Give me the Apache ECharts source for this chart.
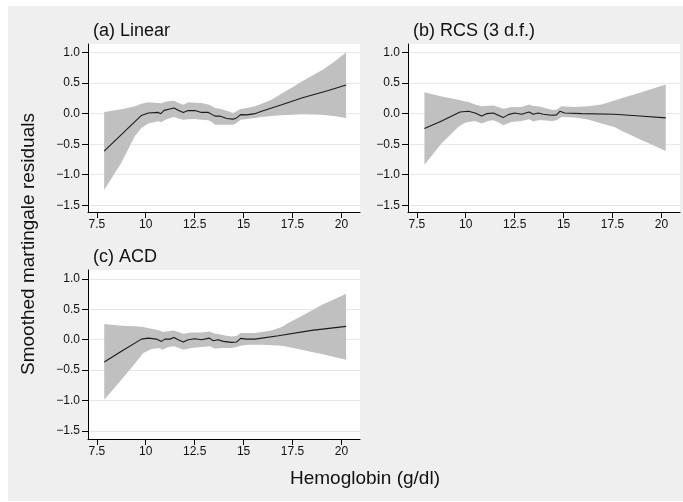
<!DOCTYPE html>
<html>
<head>
<meta charset="utf-8">
<script src="https://cdn.jsdelivr.net/npm/echarts@6/dist/echarts.min.js"></script>
<style>
  html, body { margin: 0; padding: 0; background: #ffffff; }
  #bg { position: absolute; left: 8px; top: 6px; width: 675px; height: 495px; background: #efefef; }
  #chart { position: absolute; left: 0; top: 0; width: 683px; height: 502px; }
</style>
</head>
<body>
<div id="bg"></div>
<div id="chart"></div>
<script>
// ---- tick labels ----
const xTicks = [7.5, 10, 12.5, 15, 17.5, 20];
const yTicks = [-1.5, -1.0, -0.5, 0.0, 0.5, 1.0];
const panelTitles = ['(a) Linear', '(b) RCS (3 d.f.)', '(c) ACD'];
const xTitle = 'Hemoglobin (g/dl)';
const yTitle = 'Smoothed martingale residuals';

// ---- (a) Linear ----
const linLineX = [7.875, 9.78, 10.13, 10.64, 10.77, 10.94, 11.23, 11.44, 11.66, 11.92, 12.17, 12.51, 12.85, 13.2, 13.4, 13.54, 13.79, 14.13, 14.47, 14.64, 14.85, 15.16, 15.58, 15.92, 16.95, 17.97, 19.33, 20.24];
const linLineY = [-0.614, -0.03, 0.01, 0.02, 0.0, 0.054, 0.076, 0.092, 0.054, 0.02, 0.05, 0.05, 0.02, 0.02, -0.016, -0.04, -0.04, -0.08, -0.09, -0.07, -0.016, -0.02, 0.0, 0.04, 0.147, 0.255, 0.38, 0.47];
const linBandX = [7.875, 8.76, 9.44, 9.78, 10.13, 10.64, 10.8, 11.0, 11.23, 11.44, 11.66, 11.92, 12.17, 12.5, 12.85, 13.2, 13.4, 13.54, 13.8, 14.1, 14.47, 14.64, 14.85, 15.16, 15.58, 15.92, 16.43, 16.95, 17.5, 17.97, 18.5, 19.0, 19.6, 20.24];
const linBandLo = [-1.25, -0.80, -0.37, -0.234, -0.16, -0.125, -0.14, -0.10, -0.075, -0.054, -0.08, -0.098, -0.09, -0.087, -0.098, -0.11, -0.14, -0.18, -0.18, -0.18, -0.18, -0.152, -0.098, -0.087, -0.07, -0.054, -0.04, -0.027, -0.018, -0.01, -0.012, -0.02, -0.04, -0.07];
const linBandHi = [0.027, 0.07, 0.12, 0.163, 0.185, 0.174, 0.17, 0.195, 0.205, 0.21, 0.18, 0.147, 0.185, 0.18, 0.174, 0.15, 0.12, 0.092, 0.08, 0.05, 0.01, 0.04, 0.075, 0.092, 0.12, 0.16, 0.228, 0.33, 0.43, 0.527, 0.62, 0.71, 0.84, 1.0];

// ---- (b) RCS (3 d.f.) ----
const rcsLineX = [7.89, 8.77, 9.71, 10.14, 10.48, 10.81, 11.07, 11.41, 11.66, 11.92, 12.17, 12.5, 12.85, 13.24, 13.45, 13.7, 13.96, 14.39, 14.64, 14.81, 15.06, 15.92, 17.6, 18.9, 20.22];
const rcsLineY = [-0.243, -0.12, 0.027, 0.038, 0.01, -0.038, 0.0, 0.01, -0.027, -0.065, -0.016, 0.01, -0.01, 0.027, -0.01, 0.01, -0.01, -0.027, -0.02, 0.038, 0.01, 0.0, -0.01, -0.038, -0.07];
const rcsBandX = [7.89, 8.77, 9.63, 9.97, 10.14, 10.48, 10.81, 11.15, 11.41, 11.66, 11.92, 12.33, 12.85, 13.24, 13.45, 13.7, 13.96, 14.39, 14.64, 14.9, 15.58, 16.25, 16.94, 17.6, 17.96, 18.98, 20.22];
const rcsBandLo = [-0.838, -0.486, -0.216, -0.151, -0.135, -0.12, -0.162, -0.12, -0.108, -0.14, -0.19, -0.135, -0.12, -0.092, -0.13, -0.11, -0.11, -0.12, -0.108, -0.054, -0.065, -0.097, -0.162, -0.22, -0.28, -0.432, -0.61];
const rcsBandHi = [0.351, 0.28, 0.227, 0.20, 0.19, 0.15, 0.119, 0.13, 0.135, 0.11, 0.08, 0.108, 0.108, 0.15, 0.125, 0.12, 0.10, 0.065, 0.065, 0.12, 0.108, 0.12, 0.15, 0.216, 0.25, 0.35, 0.476];

// ---- (c) ACD ----
const acdLineX = [7.88, 8.76, 9.78, 10.13, 10.55, 10.8, 10.98, 11.23, 11.44, 11.66, 11.92, 12.17, 12.51, 12.85, 13.25, 13.45, 13.7, 13.96, 14.39, 14.64, 14.85, 15.16, 15.58, 16.78, 18.48, 20.24];
const acdLineY = [-0.366, -0.19, 0.01, 0.027, 0.01, -0.027, 0.01, 0.01, 0.038, 0.0, -0.038, 0.0, 0.016, 0.0, 0.027, -0.016, 0.0, -0.027, -0.044, -0.038, 0.022, 0.01, 0.01, 0.065, 0.153, 0.219];
const acdBandX = [7.88, 8.76, 9.44, 9.87, 10.3, 10.72, 10.85, 11.15, 11.44, 11.66, 11.92, 12.34, 12.85, 13.28, 13.54, 13.7, 14.05, 14.39, 14.64, 14.85, 15.25, 15.58, 15.92, 16.43, 16.95, 17.28, 17.97, 18.48, 18.99, 20.24];
const acdBandLo = [-0.984, -0.656, -0.393, -0.219, -0.153, -0.137, -0.164, -0.12, -0.109, -0.13, -0.164, -0.137, -0.12, -0.109, -0.148, -0.14, -0.137, -0.137, -0.12, -0.098, -0.082, -0.082, -0.082, -0.09, -0.098, -0.12, -0.164, -0.2, -0.235, -0.328];
const acdBandHi = [0.257, 0.23, 0.22, 0.21, 0.18, 0.15, 0.126, 0.14, 0.153, 0.125, 0.098, 0.12, 0.12, 0.137, 0.10, 0.093, 0.07, 0.055, 0.06, 0.11, 0.11, 0.11, 0.125, 0.153, 0.21, 0.273, 0.39, 0.48, 0.57, 0.754];

const panels = [
  { lx: linLineX, ly: linLineY, bx: linBandX, lo: linBandLo, hi: linBandHi },
  { lx: rcsLineX, ly: rcsLineY, bx: rcsBandX, lo: rcsBandLo, hi: rcsBandHi },
  { lx: acdLineX, ly: acdLineY, bx: acdBandX, lo: acdBandLo, hi: acdBandHi }
];

const FONT = '"Liberation Sans", Arial, Helvetica, sans-serif';
const gridPos = [
  { left: 88, top: 44, width: 272, height: 168 },
  { left: 408, top: 44, width: 272, height: 168 },
  { left: 88, top: 270, width: 272, height: 169 }
];
const yRange = [
  { min: -1.61, max: 1.14 },
  { min: -1.61, max: 1.14 },
  { min: -1.63, max: 1.145 }
];

const fmtY = v => (v < 0 ? '\u2212' : '') + Math.abs(v).toFixed(1);

const grids = [], xAxes = [], yAxes = [], series = [];
panels.forEach((p, i) => {
  grids.push(Object.assign({ show: true, backgroundColor: '#ffffff', borderWidth: 0 }, gridPos[i]));
  xAxes.push({
    type: 'value', gridIndex: i, min: 7.05, max: 20.95,
    axisLine: { show: true, onZero: false, lineStyle: { color: '#000', width: 1 } },
    axisTick: { show: true, length: 6, customValues: xTicks, lineStyle: { color: '#000' } },
    axisLabel: { customValues: xTicks, formatter: v => String(v), fontSize: 12, color: '#111', margin: 7, fontFamily: FONT },
    splitLine: { show: false }
  });
  yAxes.push({
    type: 'value', gridIndex: i, min: yRange[i].min, max: yRange[i].max,
    axisLine: { show: true, onZero: false, lineStyle: { color: '#000', width: 1 } },
    axisTick: { show: true, length: 6, customValues: yTicks, lineStyle: { color: '#000' } },
    axisLabel: { customValues: yTicks, formatter: fmtY, fontSize: 12, color: '#111', margin: 8, fontFamily: FONT },
    splitLine: { show: true, lineStyle: { color: '#e8e8e8', width: 1 } }
  });
  // confidence band: polygon through upper edge then lower edge (reversed)
  const bandData = p.bx.map((x, k) => [x, p.lo[k], p.hi[k]]);
  series.push({
    type: 'custom', xAxisIndex: i, yAxisIndex: i, silent: true, z: 2,
    data: bandData,
    encode: { x: 0, y: [1, 2] },
    renderItem: function (params, api) {
      if (params.dataIndex !== 0) return null;
      const up = bandData.map(d => api.coord([d[0], d[2]]));
      const dn = bandData.map(d => api.coord([d[0], d[1]])).reverse();
      return {
        type: 'polygon',
        shape: { points: up.concat(dn) },
        style: { fill: '#c0c0c0', stroke: null }
      };
    }
  });
  series.push({
    type: 'line', xAxisIndex: i, yAxisIndex: i, symbol: 'none', silent: true,
    lineStyle: { color: '#1a1a1a', width: 1.1 },
    data: p.lx.map((x, k) => [x, p.ly[k]]), z: 3
  });
});

const titlePos = [[93, 31], [413, 31], [93, 257]];
const graphics = panelTitles.map((t, i) => ({
  type: 'text', x: titlePos[i][0], y: titlePos[i][1],
  style: { text: t, font: '18px ' + FONT, fill: '#111', textAlign: 'left', textVerticalAlign: 'middle' }
}));
graphics.push({
  type: 'text', x: 290, y: 479,
  style: { text: xTitle, font: '19px ' + FONT, fill: '#111', textAlign: 'left', textVerticalAlign: 'middle' }
});
graphics.push({
  type: 'text', x: 29, y: 244, rotation: Math.PI / 2,
  style: { text: yTitle, font: '19px ' + FONT, fill: '#111', textAlign: 'center', textVerticalAlign: 'middle' }
});

const chart = echarts.init(document.getElementById('chart'), null, { renderer: 'canvas' });
chart.setOption({
  backgroundColor: 'transparent',
  animation: false,
  grid: grids,
  xAxis: xAxes,
  yAxis: yAxes,
  series: series,
  graphic: graphics
});
</script>
</body>
</html>
